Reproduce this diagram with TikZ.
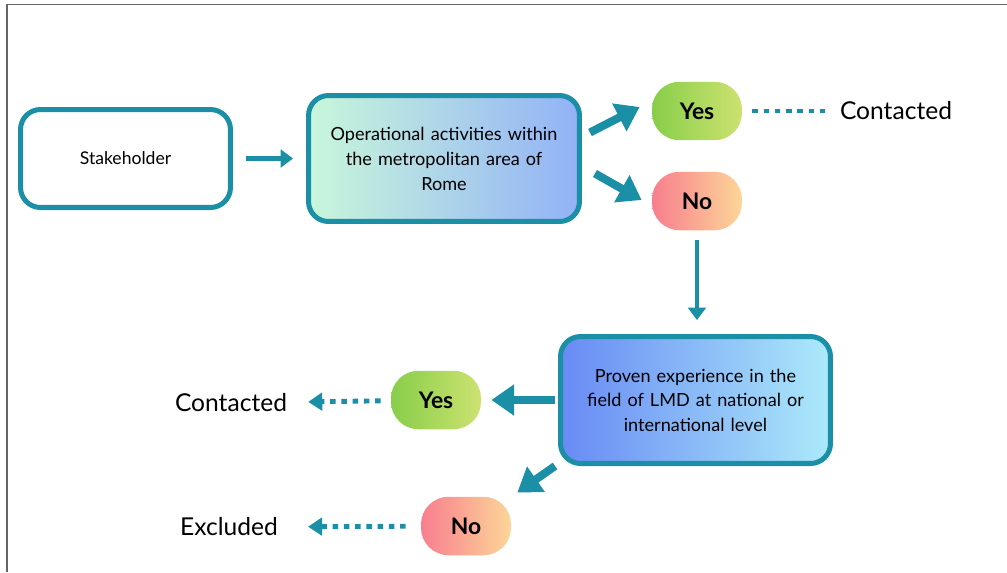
\documentclass[tikz,border=0pt]{standalone}
\usepackage{fontspec}
\setmainfont{Lato}
\usetikzlibrary{arrows.meta}
\definecolor{teal1}{RGB}{26,143,166}
\definecolor{mint}{RGB}{200,247,218}
\definecolor{bluea}{RGB}{146,178,247}
\definecolor{blueb}{RGB}{104,138,244}
\definecolor{cyanb}{RGB}{172,234,250}
\definecolor{greena}{RGB}{136,206,74}
\definecolor{greenb}{RGB}{204,226,112}
\definecolor{pinka}{RGB}{248,126,142}
\definecolor{peach}{RGB}{252,214,152}
\tikzset{
  box/.style={draw=teal1, line width=2.85pt, rounded corners=0.4cm, align=center},
  answer/.style={rounded corners=0.55cm, font=\fontsize{13}{15}\selectfont\bfseries,
    minimum width=1.8cm, minimum height=1.17cm},
  thinarrow/.style={teal1, line width=2.4pt, -{Triangle[length=7pt,width=10pt]}},
  bigarrow/.style={teal1, line width=4.6pt, -{Triangle[length=13pt,width=17pt]}},
  dots/.style={teal1, line width=2.8pt, dash pattern=on 3.2pt off 3.2pt},
  result/.style={font=\fontsize{14}{16}\selectfont}
}
\begin{document}
\begin{tikzpicture}[x=0.02cm,y=-0.02cm]
      \useasboundingbox (0,0) rectangle (1007,572);
      \draw[gray!80!black, line width=0.9pt] (7,572) -- (7,4.5) -- (1007,4.5);
      \draw
        (125.5,158.5) node[box, minimum width=4.2cm, minimum height=1.96cm,
          font=\fontsize{10}{14}\selectfont] (stake){Stakeholder}
        (444,158.5) node[box, minimum width=5.42cm, minimum height=2.52cm,
          text width=5cm, left color=mint, right color=bluea,
          font=\fontsize{10.3}{14.2}\selectfont] (oper){Operational activities within\\the metropolitan area of\\Rome}
        (697,111) node[answer, left color=greena, right color=greenb] (yes1){Yes}
        (697,201) node[answer, left color=pinka, right color=peach] (no1){No}
        (896,111) node[result] (cont1){Contacted}
        (695.5,400) node[box, minimum width=5.4cm, minimum height=2.54cm,
          text width=5cm, left color=blueb, right color=cyanb,
          font=\fontsize{10.3}{14}\selectfont] (prov){Proven experience in the\\field of LMD at national or\\international level}
        (436,400) node[answer, left color=greena, right color=greenb] (yes2){Yes}
        (466,526) node[answer, left color=pinka, right color=peach] (no2){No}
        (231,403) node[result] (cont2){Contacted}
        (229,527) node[result] (excl){Excluded};
      \begin{scope}
        \draw[thinarrow, shorten <=0.26cm, shorten >=0.26cm] (stake) -- (oper);
        \draw[bigarrow] ([shift={(8,-26)}]oper.east) -- ([shift={(-12,-4)}]yes1.west);
        \draw[bigarrow] ([shift={(13,15)}]oper.east) -- ([shift={(-10,-1)}]no1.west);
        \draw[thinarrow, shorten <=0.18cm, shorten >=0.28cm] (no1.south) -- (no1.south |- prov.north);
        \draw[bigarrow, shorten <=0.06cm, shorten >=0.2cm] (prov) -- (yes2);
        \draw[bigarrow] ([shift={(-3,0)}]prov.south west) -- ([shift={(6,-4)}]no2.north east);
        \draw[dots, shorten <=0.2cm, shorten >=0.14cm] (yes1) -- (cont1);
        \draw[dots, -{Triangle[length=8pt,width=10pt]}, shorten <=0.2cm, shorten >=0.3cm] (yes2) -- (cont2);
        \draw[dots, -{Triangle[length=8pt,width=10pt]}, shorten <=0.3cm, shorten >=0.48cm] (no2) -- (excl);
      \end{scope}
    \end{tikzpicture}
\end{document}
